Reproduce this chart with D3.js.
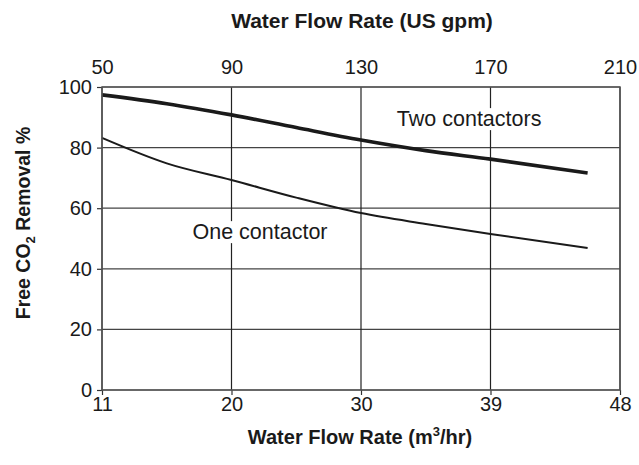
<!DOCTYPE html>
<html>
<head>
<meta charset="utf-8">
<script src="https://cdn.jsdelivr.net/npm/d3@7"></script>
<style>
  body { margin: 0; background: #fff; }
  text { font-family: "Liberation Sans", Arial, sans-serif; fill: #1a1a1a; }
</style>
</head>
<body>
<svg id="chart" width="639" height="465"></svg>
<script>
// values
const flowGpm = [50, 70, 90, 110, 130, 150, 170, 200];
const twoContactors = [97.4, 94.5, 90.8, 86.6, 82.5, 79.0, 76.2, 71.6];
const oneContactor = [83.2, 74.8, 69.3, 63.5, 58.4, 54.8, 51.5, 46.9];

const gpmTicks = [50, 90, 130, 170, 210];
const m3Ticks = [11, 20, 30, 39, 48];
const pctTicks = [0, 20, 40, 60, 80, 100];

const svg = d3.select('svg#chart');

const x = d3.scaleLinear().domain([50, 210]).range([102, 620]);
const xBottom = d3.scalePoint().domain(m3Ticks).range([102, 620]);
const y = d3.scaleLinear().domain([0, 100]).range([390, 87]);

// grid
svg.append('g')
  .selectAll('line')
  .data(pctTicks)
  .join('line')
  .attr('x1', 102).attr('x2', 620)
  .attr('y1', d => y(d)).attr('y2', d => y(d))
  .attr('stroke', '#444').attr('stroke-width', 1.2);

svg.append('g')
  .selectAll('line')
  .data(gpmTicks)
  .join('line')
  .attr('x1', d => x(d)).attr('x2', d => x(d))
  .attr('y1', y(0)).attr('y2', y(100))
  .attr('stroke', '#222').attr('stroke-width', 1.2);

// axes
const axisStyle = g => {
  g.select('.domain').remove();
  g.selectAll('.tick line').attr('stroke', '#333').attr('stroke-width', 1.2);
  g.selectAll('.tick text').attr('font-size', 20).attr('fill', '#1a1a1a')
    .style('font-family', '"Liberation Sans", Arial, sans-serif');
};

svg.append('g')
  .attr('transform', `translate(0,${y(100)})`)
  .call(d3.axisTop(x).tickValues(gpmTicks).tickSize(0).tickPadding(13))
  .call(axisStyle);

svg.append('g')
  .attr('transform', `translate(0,${y(0)})`)
  .call(d3.axisBottom(xBottom).tickSize(5).tickPadding(2))
  .call(axisStyle);

svg.append('g')
  .attr('transform', 'translate(102,0)')
  .call(d3.axisLeft(y).tickValues(pctTicks).tickSize(5).tickPadding(5))
  .call(axisStyle);

// curves
const line = d3.line()
  .x((d, i) => x(flowGpm[i]))
  .y(d => y(d))
  .curve(d3.curveMonotoneX);

svg.append('path')
  .datum(twoContactors)
  .attr('d', line)
  .attr('fill', 'none')
  .attr('stroke', '#1a1a1a')
  .attr('stroke-width', 3.6);

svg.append('path')
  .datum(oneContactor)
  .attr('d', line)
  .attr('fill', 'none')
  .attr('stroke', '#1a1a1a')
  .attr('stroke-width', 2);

// curve labels with white backing
const labels = [
  { text: 'Two contactors', gpm: 163.4, val: 89.4 },
  { text: 'One contactor', gpm: 98.8, val: 52.1 }
];
labels.forEach(l => {
  const t = svg.append('text')
    .attr('x', x(l.gpm)).attr('y', y(l.val))
    .attr('text-anchor', 'middle')
    .attr('dominant-baseline', 'central')
    .attr('font-size', 21.5)
    .text(l.text);
  const b = t.node().getBBox();
  svg.insert('rect', () => t.node())
    .attr('x', b.x - 2).attr('y', b.y + 1)
    .attr('width', b.width + 4).attr('height', b.height - 2)
    .attr('fill', '#fff');
});

// frame
svg.append('rect')
  .attr('x', 102).attr('y', y(100))
  .attr('width', 518).attr('height', y(0) - y(100))
  .attr('fill', 'none').attr('stroke', '#555').attr('stroke-width', 1.5);

// titles
svg.append('text')
  .attr('x', 362).attr('y', 28)
  .attr('text-anchor', 'middle')
  .attr('font-size', 21).attr('font-weight', 'bold')
  .text('Water Flow Rate (US gpm)');

const bt = svg.append('text')
  .attr('x', 360).attr('y', 444)
  .attr('text-anchor', 'middle')
  .attr('font-size', 20).attr('font-weight', 'bold');
bt.append('tspan').text('Water Flow Rate (m');
bt.append('tspan').attr('font-size', 13).attr('dy', -8).text('3');
bt.append('tspan').attr('dy', 8).text('/hr)');

const yt = svg.append('text')
  .attr('transform', 'translate(30,223) rotate(-90)')
  .attr('text-anchor', 'middle')
  .attr('font-size', 19.5).attr('font-weight', 'bold');
yt.append('tspan').text('Free CO');
yt.append('tspan').attr('font-size', 13).attr('dy', 5).text('2');
yt.append('tspan').attr('dy', -5).text(' Removal %');
</script>
</body>
</html>
